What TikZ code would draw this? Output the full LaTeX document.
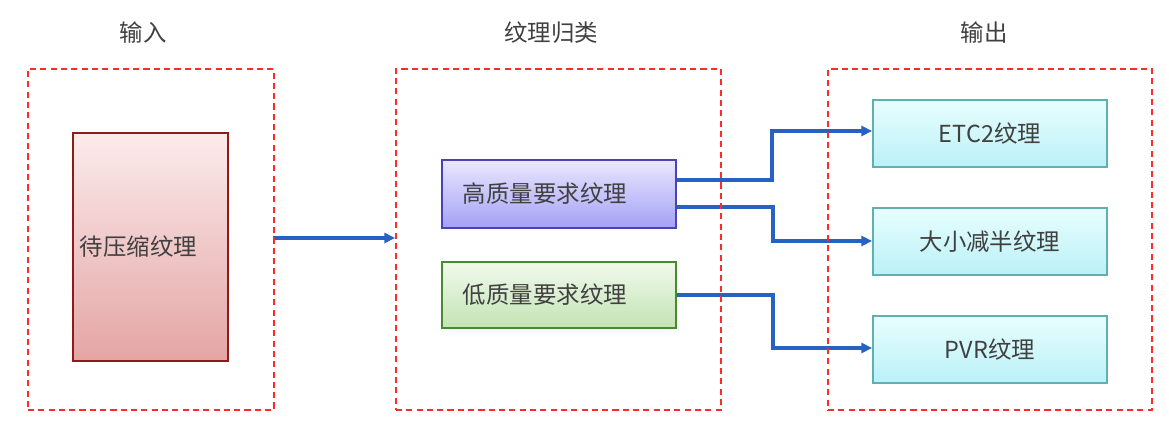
\documentclass[tikz,border=0pt]{standalone}
\usepackage{fontspec}
\setmainfont{Noto Sans CJK SC}
\usetikzlibrary{arrows.meta,positioning}
\definecolor{framered}{HTML}{FF2A2A}
\definecolor{linkblue}{HTML}{2762C2}
\definecolor{txtgray}{HTML}{404040}
\definecolor{intop}{HTML}{FCEBEC}
\definecolor{inbot}{HTML}{E3A5A4}
\definecolor{inline}{HTML}{8E1B1B}
\definecolor{hqtop}{HTML}{EAE7FE}
\definecolor{hqbot}{HTML}{A4A1F6}
\definecolor{hqline}{HTML}{4B41B8}
\definecolor{lqtop}{HTML}{F0FAEC}
\definecolor{lqbot}{HTML}{C3E3B5}
\definecolor{lqline}{HTML}{4A8A2E}
\definecolor{outtop}{HTML}{E8FEFE}
\definecolor{outbot}{HTML}{BAF1F7}
\definecolor{outline}{HTML}{5FB0B0}

\begin{document}
\begin{tikzpicture}[x=0.03cm,y=-0.03cm,
  font=\fontsize{20}{24}\selectfont, text=txtgray,
  frame/.style={draw=framered, line width=1.6pt, dash pattern=on 5.2pt off 3.6pt, anchor=north west, inner sep=0pt},
  inbox/.style={draw=inline, line width=1.5pt, top color=intop, bottom color=inbot, anchor=north west},
  hqbox/.style={draw=hqline, line width=1.5pt, top color=hqtop, bottom color=hqbot, anchor=north west},
  lqbox/.style={draw=lqline, line width=1.5pt, top color=lqtop, bottom color=lqbot, anchor=north west},
  outbox/.style={draw=outline, line width=1.5pt, top color=outtop, bottom color=outbot, anchor=north west, minimum width=7.02cm, minimum height=2.01cm},
  link/.style={draw=linkblue, line width=2.8pt, -{Triangle[length=9pt,width=8.5pt]}}]
  \useasboundingbox (0,0) rectangle (1169,424);

  \node (ttl-in) at (143,33) {输入};
  \node (ttl-mid) at (551,33) {纹理归类};
  \node (ttl-out) at (984,33) {输出};

  \node[inbox, minimum width=4.65cm, minimum height=6.84cm, inner xsep=0.21cm, text width=4.23cm, align=left] (src) at (72,132) {待压缩纹理};
  \node[hqbox, minimum width=7.02cm, minimum height=2.04cm, inner xsep=0.63cm, text width=5.76cm, align=left] (hq) at (441,159) {高质量要求纹理};
  \node[lqbox, minimum width=7.02cm, minimum height=1.98cm, inner xsep=0.63cm, text width=5.76cm, align=left] (lq) at (441,261) {低质量要求纹理};

  \node[outbox] (etc) at (872,99) {ETC2纹理};
  \node[outbox] (half) at (872,207) {大小减半纹理};
  \node[outbox] (pvr) at (872,315) {PVR纹理};

  \coordinate (in-r) at (273,238);
  \coordinate (mid-l) at (395,238);
  \draw[link] (in-r) -- (mid-l);
  \draw[link] ([yshift=0.42cm]hq.east) -| (772,131) -- (etc.west |- 0,131);
  \draw[link] ([yshift=-0.39cm]hq.east) -| (773,241) -- (half.west |- 0,241);
  \draw[link] (lq.east) -| (773,348) -- (pvr.west |- 0,348);

  \node[frame, minimum width=7.38cm, minimum height=10.23cm] (fr-in) at (27,68) {};
  \node[frame, minimum width=9.75cm, minimum height=10.23cm] (fr-mid) at (395,68) {};
  \node[frame, minimum width=9.72cm, minimum height=10.23cm] (fr-out) at (827,68) {};
\end{tikzpicture}
\end{document}
